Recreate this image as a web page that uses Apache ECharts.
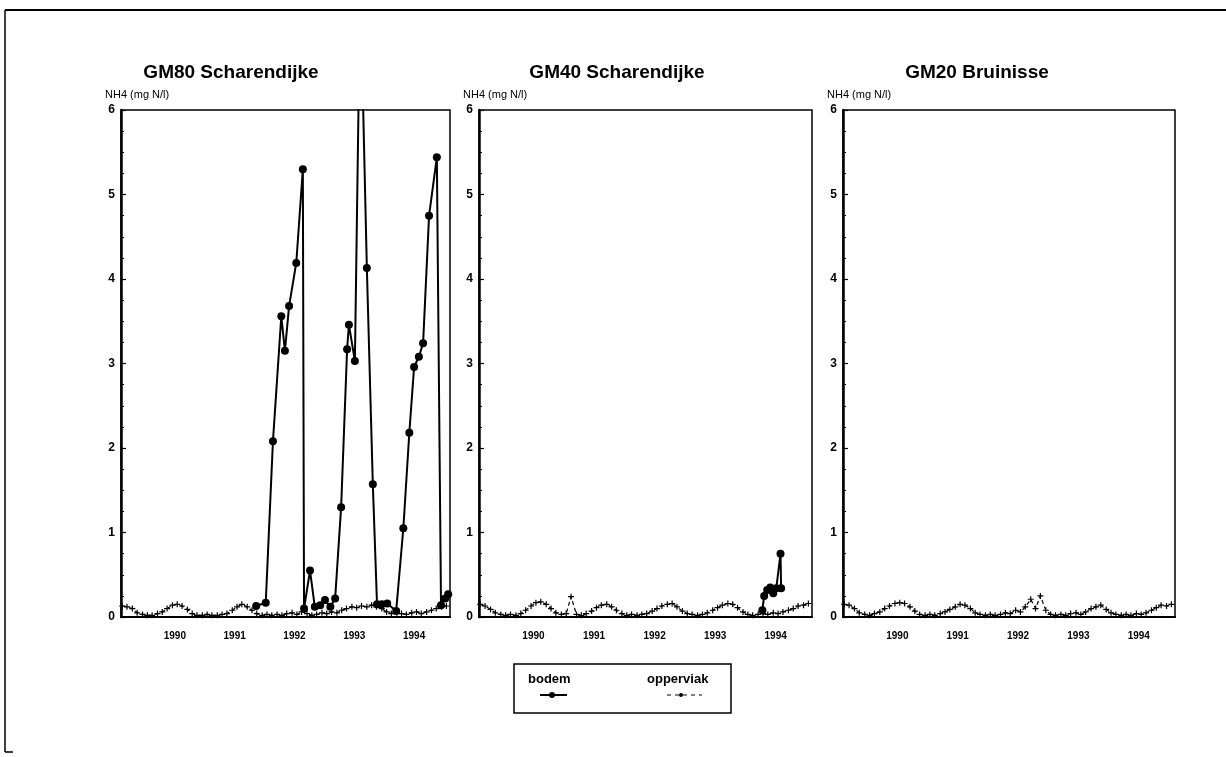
<!DOCTYPE html>
<html>
<head>
<meta charset="utf-8">
<script src="https://cdn.jsdelivr.net/npm/echarts@6/dist/echarts.min.js"></script>
<style>
html,body{margin:0;padding:0;background:#fff;}
#chart{width:1226px;height:757px;}
</style>
</head>
<body>
<div id="chart"></div>
<script>
// ---- data (decimal years, NH4 mg N/l) ----
const panelTitles = ['GM80 Scharendijke', 'GM40 Scharendijke', 'GM20 Bruinisse'];
const yearLabels = [1990, 1991, 1992, 1993, 1994];
const yTicks = [0, 1, 2, 3, 4, 5, 6];

// sampling times of the surface (opperviak) series
const monthT = [1989.62, 1989.70, 1989.79, 1989.87, 1989.96, 1990.04, 1990.12, 1990.21, 1990.29, 1990.37, 1990.46, 1990.54,
  1990.62, 1990.71, 1990.79, 1990.87, 1990.96, 1991.04, 1991.12, 1991.21, 1991.29, 1991.37, 1991.46, 1991.54,
  1991.62, 1991.71, 1991.79, 1991.87, 1991.96, 1992.04, 1992.12, 1992.21, 1992.29, 1992.37, 1992.46, 1992.54,
  1992.62, 1992.71, 1992.79, 1992.87, 1992.96, 1993.04, 1993.12, 1993.21, 1993.29, 1993.37, 1993.46, 1993.54,
  1993.62, 1993.71, 1993.79, 1993.87, 1993.96, 1994.04, 1994.12, 1994.21, 1994.29, 1994.37, 1994.46, 1994.54,
  1994.62, 1994.71, 1994.79, 1994.87, 1994.96, 1995.04];

const gm80Opp = [0.13, 0.12, 0.10, 0.05, 0.03, 0.02, 0.02, 0.04, 0.06, 0.10, 0.14, 0.15,
  0.13, 0.09, 0.04, 0.02, 0.02, 0.03, 0.02, 0.02, 0.03, 0.04, 0.08, 0.12,
  0.15, 0.12, 0.08, 0.04, 0.02, 0.03, 0.02, 0.03, 0.02, 0.04, 0.05, 0.03,
  0.06, 0.04, 0.02, 0.03, 0.05, 0.04, 0.06, 0.05, 0.08, 0.10, 0.12, 0.11,
  0.13, 0.12, 0.14, 0.12, 0.10, 0.06, 0.04, 0.05, 0.04, 0.03, 0.05, 0.06,
  0.04, 0.06, 0.08, 0.10, 0.12, 0.13];

const gm40Opp = [0.15, 0.13, 0.09, 0.05, 0.03, 0.02, 0.03, 0.02, 0.04, 0.08, 0.13, 0.17,
  0.18, 0.15, 0.10, 0.05, 0.03, 0.04, 0.24, 0.03, 0.02, 0.04, 0.07, 0.11,
  0.14, 0.15, 0.12, 0.08, 0.04, 0.02, 0.03, 0.02, 0.03, 0.04, 0.07, 0.10,
  0.13, 0.15, 0.16, 0.12, 0.07, 0.04, 0.03, 0.02, 0.03, 0.05, 0.08, 0.11,
  0.14, 0.16, 0.15, 0.11, 0.06, 0.03, 0.02, 0.03, 0.04, 0.03, 0.05, 0.04,
  0.06, 0.08, 0.10, 0.13, 0.14, 0.16];

const gm20Opp = [0.15, 0.14, 0.10, 0.05, 0.03, 0.02, 0.04, 0.06, 0.10, 0.13, 0.16, 0.17,
  0.16, 0.12, 0.07, 0.03, 0.02, 0.03, 0.02, 0.04, 0.06, 0.09, 0.12, 0.15,
  0.14, 0.10, 0.05, 0.03, 0.02, 0.03, 0.02, 0.03, 0.05, 0.04, 0.08, 0.06,
  0.12, 0.21, 0.10, 0.25, 0.08, 0.03, 0.02, 0.03, 0.02, 0.04, 0.05, 0.03,
  0.06, 0.10, 0.12, 0.14, 0.09, 0.05, 0.03, 0.02, 0.03, 0.02, 0.04, 0.03,
  0.05, 0.08, 0.11, 0.14, 0.13, 0.15];

// bottom (bodem) series: times and values
const gm80BodemT = [1991.86, 1992.02, 1992.14, 1992.28, 1992.34, 1992.41, 1992.53, 1992.64, 1992.66, 1992.76,
  1992.84, 1992.93, 1993.01, 1993.10, 1993.18, 1993.28, 1993.38, 1993.41, 1993.51, 1993.60,
  1993.71, 1993.81, 1993.88, 1993.96, 1994.05, 1994.20, 1994.32, 1994.42, 1994.50, 1994.58,
  1994.65, 1994.75, 1994.88, 1994.95, 1995.02, 1995.07];
const gm80BodemV = [0.13, 0.17, 2.08, 3.56, 3.15, 3.68, 4.19, 5.30, 0.10, 0.55,
  0.12, 0.14, 0.20, 0.12, 0.22, 1.30, 3.17, 3.46, 3.03, 7.5,
  4.13, 1.57, 0.15, 0.15, 0.16, 0.07, 1.05, 2.18, 2.96, 3.08,
  3.24, 4.75, 5.44, 0.14, 0.22, 0.27];

const gm40BodemT = [1994.28, 1994.31, 1994.36, 1994.41, 1994.46, 1994.51, 1994.58, 1994.59];
const gm40BodemV = [0.08, 0.25, 0.32, 0.35, 0.28, 0.34, 0.75, 0.34];

const gm20BodemT = [];
const gm20BodemV = [];

// ---- build ----
function pairs(t, v) { return t.map((x, i) => [x, v[i]]); }
const oppSets = [gm80Opp, gm40Opp, gm20Opp];
const bodemSets = [[gm80BodemT, gm80BodemV], [gm40BodemT, gm40BodemV], [gm20BodemT, gm20BodemV]];

const gridBoxes = [
  {left: 121, width: 329},
  {left: 479, width: 333},
  {left: 843, width: 332}
];
const titleCenters = [226, 612, 972];
const FONT = '"Liberation Sans", Arial, sans-serif';
const plusPath = 'path://M4,0h2v4h4v2h-4v4h-2v-4h-4v-2h4z';

const grids = [], xAxes = [], yAxes = [], series = [], titles = [], graphics = [];
gridBoxes.forEach((g, i) => {
  grids.push({left: g.left, width: g.width, top: 110, height: 507, show: true,
    borderColor: '#000', borderWidth: 1.5, backgroundColor: 'transparent'});
  xAxes.push({type: 'value', gridIndex: i, min: 1989.6, max: 1995.1,
    axisLine: {show: true, onZero: false, lineStyle: {color: '#000', width: 2}},
    axisTick: {show: false}, splitLine: {show: false},
    axisLabel: {customValues: yearLabels.map(y => y + 0.5), formatter: v => String(Math.floor(v)),
      color: '#000', fontFamily: FONT, fontSize: 10, fontWeight: 'bold', margin: 14}});
  yAxes.push({type: 'value', gridIndex: i, min: 0, max: 6, interval: 1,
    axisLine: {show: true, lineStyle: {color: '#000', width: 2.5}},
    axisTick: {show: true, inside: true, length: 5, lineStyle: {color: '#000', width: 1.2}},
    minorTick: {show: true, splitNumber: 4, length: 3, lineStyle: {color: '#000', width: 1}},
    splitLine: {show: false},
    axisLabel: {color: '#000', fontFamily: FONT, fontSize: 12, fontWeight: 'bold', margin: 6}});
  titles.push({text: panelTitles[i], left: titleCenters[i], top: 58, textAlign: 'center',
    textStyle: {fontFamily: FONT, fontSize: 19, fontWeight: 'bold', color: '#000'}});
  graphics.push({type: 'text', left: g.left - 16, top: 89,
    style: {text: 'NH4 (mg N/l)', font: '11px ' + FONT, fill: '#000'}});
  series.push({type: 'line', xAxisIndex: i, yAxisIndex: i, name: 'opperviak',
    data: pairs(monthT, oppSets[i]), symbol: plusPath, symbolSize: 6,
    itemStyle: {color: '#000'}, lineStyle: {color: '#000', width: 1.2, type: [4, 3]},
    animation: false, z: 3});
  series.push({type: 'line', xAxisIndex: i, yAxisIndex: i, name: 'bodem',
    data: pairs(bodemSets[i][0], bodemSets[i][1]), symbol: 'circle', symbolSize: 8,
    itemStyle: {color: '#000'}, lineStyle: {color: '#000', width: 2},
    animation: false, clip: true, z: 4});
});

// outer frame and legend box
graphics.push(
  {type: 'line', shape: {x1: 5, y1: 10, x2: 1226, y2: 10}, style: {stroke: '#000', lineWidth: 2}},
  {type: 'line', shape: {x1: 5, y1: 10, x2: 5, y2: 752}, style: {stroke: '#000', lineWidth: 1.5}},
  {type: 'line', shape: {x1: 5, y1: 752, x2: 13, y2: 752}, style: {stroke: '#000', lineWidth: 1.5}},
  {type: 'rect', shape: {x: 514, y: 664, width: 217, height: 49}, style: {fill: 'none', stroke: '#000', lineWidth: 1.5}},
  {type: 'text', left: 528, top: 673, style: {text: 'bodem', font: 'bold 13px ' + FONT, fill: '#000'}},
  {type: 'text', left: 647, top: 673, style: {text: 'opperviak', font: 'bold 13px ' + FONT, fill: '#000'}},
  {type: 'line', shape: {x1: 540, y1: 695, x2: 567, y2: 695}, style: {stroke: '#000', lineWidth: 2}},
  {type: 'circle', shape: {cx: 552, cy: 695, r: 3}, style: {fill: '#000'}},
  {type: 'line', shape: {x1: 667, y1: 695, x2: 702, y2: 695}, style: {stroke: '#000', lineWidth: 1.2, lineDash: [4, 4]}},
  {type: 'circle', shape: {cx: 681, cy: 695, r: 2}, style: {fill: '#000'}}
);

const chart = echarts.init(document.getElementById('chart'), null, {renderer: 'canvas'});
chart.setOption({
  backgroundColor: '#fff',
  animation: false,
  title: titles,
  grid: grids,
  xAxis: xAxes,
  yAxis: yAxes,
  series: series,
  graphic: graphics
});
</script>
</body>
</html>
